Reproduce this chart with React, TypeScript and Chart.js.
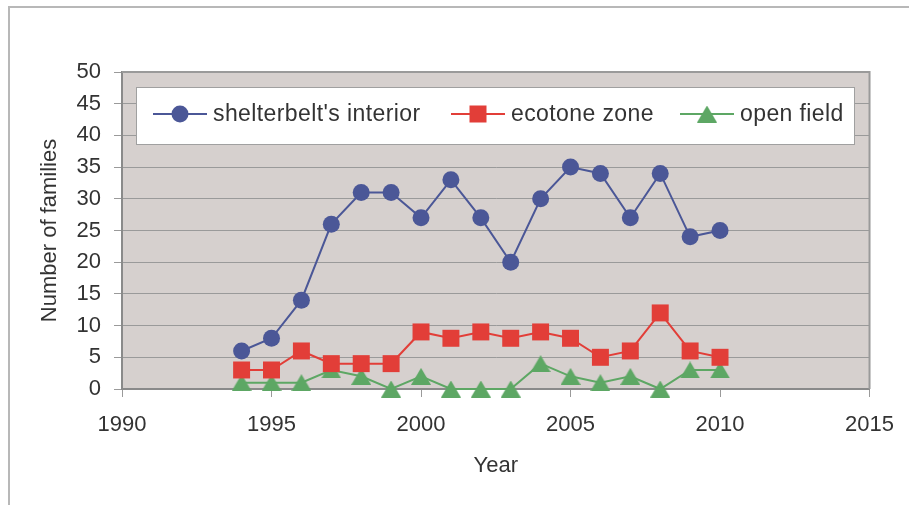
import React, { useEffect, useRef } from "react";
import { Chart, registerables } from "chart.js";

Chart.register(...registerables);

const years = [1994, 1995, 1996, 1997, 1998, 1999, 2000, 2001, 2002, 2003, 2004, 2005, 2006, 2007, 2008, 2009, 2010];
const interior = [6, 8, 14, 26, 31, 31, 27, 33, 27, 20, 30, 35, 34, 27, 34, 24, 25];
const ecotone = [3, 3, 6, 4, 4, 4, 9, 8, 9, 8, 9, 8, 5, 6, 12, 6, 5];
const openField = [1, 1, 1, 3, 2, 0, 2, 0, 0, 0, 4, 2, 1, 2, 0, 3, 3];
const seriesLabels = ["shelterbelt's interior", "ecotone zone", "open field"];
const xTicks = [1990, 1995, 2000, 2005, 2010, 2015];
const yTicks = [0, 5, 10, 15, 20, 25, 30, 35, 40, 45, 50];
const xTitle = "Year";
const yTitle = "Number of families";

const BLUE = "#4B5797";
const RED = "#E23E38";
const GREEN = "#5DA764";
const FONT = "'Liberation Sans', Arial, sans-serif";
const TEXT = "#333333";

function makeTriangle(color: string): HTMLCanvasElement {
  const c = document.createElement("canvas");
  c.width = 20;
  c.height = 17;
  const g = c.getContext("2d")!;
  g.fillStyle = color;
  g.beginPath();
  g.moveTo(10, 0);
  g.lineTo(20, 17);
  g.lineTo(0, 17);
  g.closePath();
  g.fill();
  return c;
}

export default function App() {
  const ref = useRef<HTMLCanvasElement | null>(null);

  useEffect(() => {
    const canvas = ref.current;
    if (!canvas) return;
    const tri = makeTriangle(GREEN);

    const frame = {
      id: "frame",
      beforeDraw(chart: any) {
        const { ctx, chartArea: a } = chart;
        ctx.save();
        ctx.fillStyle = "#ffffff";
        ctx.fillRect(0, 0, chart.width, chart.height);
        ctx.strokeStyle = "#b8b8b8";
        ctx.lineWidth = 2;
        ctx.beginPath();
        ctx.moveTo(9, 520);
        ctx.lineTo(9, 7);
        ctx.lineTo(920, 7);
        ctx.stroke();
        ctx.fillStyle = "#d6d0ce";
        ctx.fillRect(a.left, a.top, a.right - a.left, a.bottom - a.top);
        ctx.restore();
      },
      afterDatasetsDraw(chart: any) {
        const { ctx, chartArea: a } = chart;
        ctx.save();
        ctx.strokeStyle = "#9a9a9a";
        ctx.lineWidth = 2;
        ctx.beginPath();
        ctx.moveTo(a.left, a.top);
        ctx.lineTo(a.right, a.top);
        ctx.lineTo(a.right, a.bottom);
        ctx.stroke();

        // legend box
        const lx = 136, ly = 87, lw = 718, lh = 57;
        ctx.fillStyle = "#ffffff";
        ctx.fillRect(lx, ly, lw, lh);
        ctx.strokeStyle = "#a0a0a0";
        ctx.lineWidth = 1;
        ctx.strokeRect(lx + 0.5, ly + 0.5, lw, lh);
        const cy = 114;
        const items = [
          { x1: 153, kind: "circle" },
          { x1: 451, kind: "rect" },
          { x1: 680, kind: "tri" },
        ];
        ctx.font = `23px ${FONT}`;
        ctx.textBaseline = "middle";
        ctx.textAlign = "left";
        (ctx as any).letterSpacing = "0.4px";
        chart.data.datasets.forEach((ds: any, i: number) => {
          const it = items[i];
          ctx.strokeStyle = ds.borderColor;
          ctx.lineWidth = 2;
          ctx.beginPath();
          ctx.moveTo(it.x1, cy);
          ctx.lineTo(it.x1 + 54, cy);
          ctx.stroke();
          const mx = it.x1 + 27;
          ctx.fillStyle = ds.borderColor;
          if (it.kind === "circle") {
            ctx.beginPath();
            ctx.arc(mx, cy, 8.5, 0, Math.PI * 2);
            ctx.fill();
          } else if (it.kind === "rect") {
            ctx.fillRect(mx - 8.5, cy - 8.5, 17, 17);
          } else {
            ctx.drawImage(tri, mx - 10, cy - 8.5);
          }
          ctx.fillStyle = TEXT;
          ctx.fillText(ds.label, it.x1 + 60, cy + 1);
        });
        (ctx as any).letterSpacing = "0px";
        ctx.restore();
      },
    };

    const chart = new Chart(canvas, {
      type: "line",
      data: {
        datasets: [
          {
            label: seriesLabels[0],
            data: years.map((x, i) => ({ x, y: interior[i] })),
            borderColor: BLUE,
            backgroundColor: BLUE,
            borderWidth: 2,
            pointStyle: "circle",
            pointRadius: 8.5,
            pointBorderWidth: 0,
            clip: false,
          },
          {
            label: seriesLabels[1],
            data: years.map((x, i) => ({ x, y: ecotone[i] })),
            borderColor: RED,
            backgroundColor: RED,
            borderWidth: 2,
            pointStyle: "rect",
            pointRadius: 12,
            pointBorderWidth: 0,
            clip: false,
          },
          {
            label: seriesLabels[2],
            data: years.map((x, i) => ({ x, y: openField[i] })),
            borderColor: GREEN,
            backgroundColor: GREEN,
            borderWidth: 2,
            pointStyle: tri as any,
            pointRadius: 10,
            pointBorderWidth: 0,
            clip: false,
          },
        ],
      },
      options: {
        responsive: false,
        animation: false,
        devicePixelRatio: 1,
        layout: { padding: { top: 72, right: 39, left: 0, bottom: 0 } },
        plugins: { legend: { display: false }, tooltip: { enabled: false } },
        elements: { line: { tension: 0 } },
        scales: {
          x: {
            type: "linear",
            min: 1990,
            max: 2015,
            afterBuildTicks: (s: any) => {
              s.ticks = xTicks.map((v) => ({ value: v }));
            },
            afterFit: (s: any) => {
              s.height = 116;
            },
            ticks: {
              font: { family: FONT, size: 22 },
              color: TEXT,
              padding: 15,
              maxRotation: 0,
              autoSkip: false,
              callback: (v: any) => String(v),
            },
            grid: {
              drawOnChartArea: false,
              drawTicks: true,
              tickLength: 8,
              color: "#9a9a9a",
            },
            border: { display: true, color: "#8a8a8a", width: 2 },
            title: {
              display: true,
              text: xTitle,
              font: { family: FONT, size: 22, lineHeight: 1.2 },
              color: TEXT,
              padding: { top: 0, bottom: 26 },
            },
          },
          y: {
            type: "linear",
            min: 0,
            max: 50,
            afterBuildTicks: (s: any) => {
              s.ticks = yTicks.map((v) => ({ value: v }));
            },
            afterFit: (s: any) => {
              s.width = 122;
            },
            ticks: {
              font: { family: FONT, size: 22 },
              color: TEXT,
              padding: 13,
              autoSkip: false,
              callback: (v: any) => String(v),
            },
            grid: {
              drawOnChartArea: true,
              drawTicks: true,
              tickLength: 8,
              color: "#9a9a9a",
              lineWidth: 1,
            },
            border: { display: true, color: "#8a8a8a", width: 2 },
            title: {
              display: true,
              text: yTitle,
              font: { family: FONT, size: 22, lineHeight: 1.2 },
              color: TEXT,
              padding: { top: 37, bottom: 0 },
            },
          },
        },
      },
      plugins: [frame],
    } as any);

    return () => chart.destroy();
  }, []);

  return (
    <div style={{ position: "absolute", left: 0, top: 0, width: 909, height: 505, background: "#fff" }}>
      <canvas ref={ref} width={909} height={505} style={{ width: 909, height: 505, display: "block" }} />
    </div>
  );
}
